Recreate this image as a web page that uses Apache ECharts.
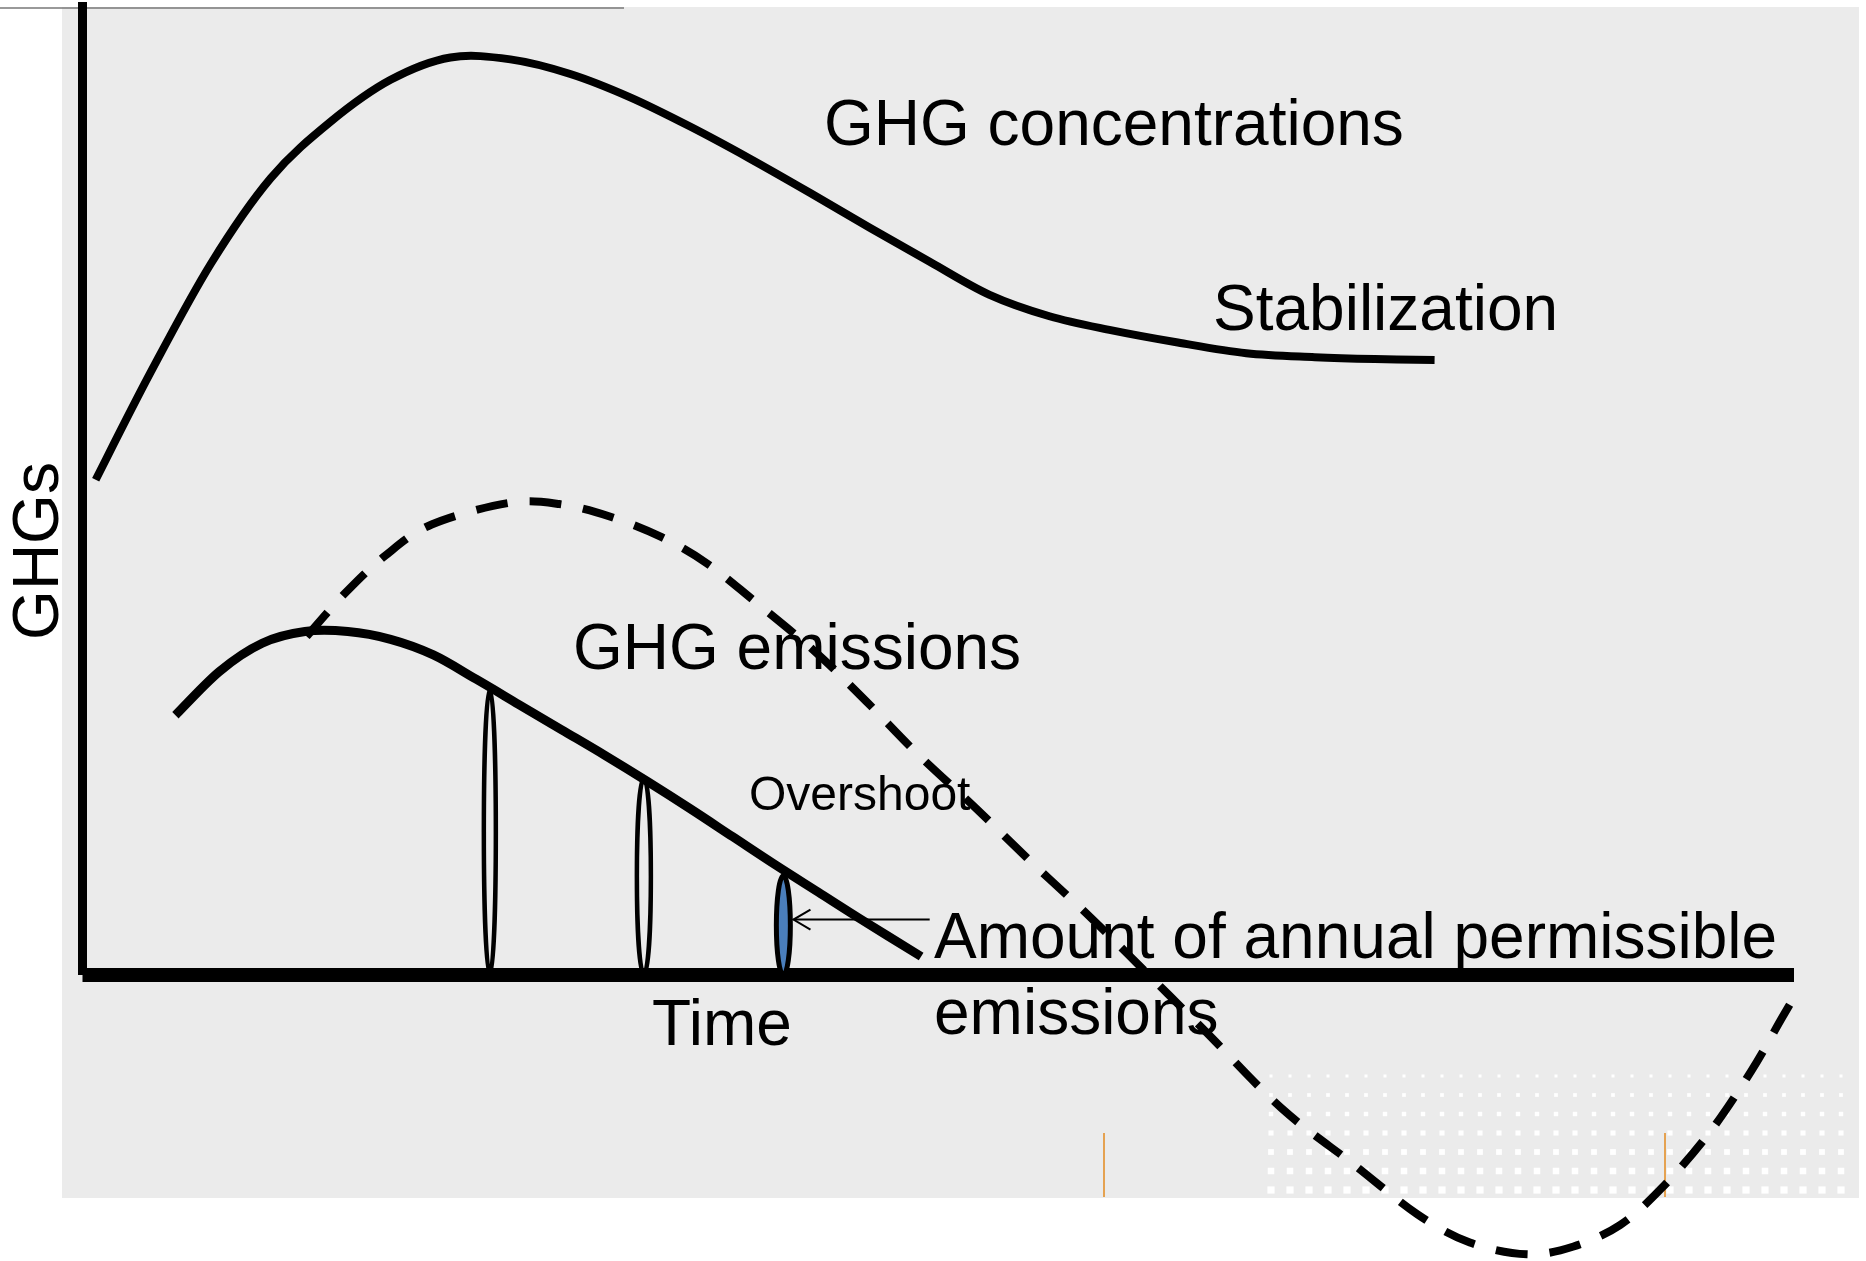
<!DOCTYPE html>
<html>
<head>
<meta charset="utf-8">
<script src="https://cdn.jsdelivr.net/npm/echarts@6/dist/echarts.min.js"></script>
<style>
  html, body { margin: 0; padding: 0; background: #fff; }
  #chart { width: 1866px; height: 1261px; }
</style>
</head>
<body>
<div id="chart"></div>
<script>
// time runs 0..100 along the x axis, GHG level 0..100 up the y axis
// GHG concentrations, rising then levelling off (stabilization)
var concX = [0.77, 4, 7.5, 11, 14.5, 18, 21.5, 25, 28.5, 32, 35.5, 39, 42.5, 46, 49.5, 53, 56.5, 60, 64, 68, 72, 75.5, 79];
var concY = [50.9, 62.0, 73.1, 81.9, 87.7, 92.0, 94.3, 94.1, 92.6, 90.2, 87.2, 83.9, 80.4, 76.8, 73.3, 69.9, 67.7, 66.3, 65.0, 63.9, 63.5, 63.3, 63.2];

// GHG emissions, peak then decline
var emisX = [5.43, 8, 10.5, 13, 15.5, 18, 20.5, 23, 25.5, 28, 30.5, 33, 35.5, 38, 40.5, 43, 45.5, 49];
var emisY = [26.7, 31.2, 34.1, 35.3, 35.3, 34.5, 32.9, 30.4, 27.8, 25.2, 22.6, 19.9, 17.1, 14.2, 11.3, 8.5, 5.7, 1.9];

// overshoot pathway (dashed), dips below zero
var overX = [13.09, 15.32, 17.69, 20.40, 24.86, 27.86, 30.85, 33.84, 36.49, 39.21, 42.76, 45.75, 48.75, 52.16, 55.5, 58.91, 62.3, 65.67, 70.06, 74.30, 78.0, 81.06, 84.40, 87.12, 89.83, 92.27, 95.06, 97.49, 99.30, 100.2];
var overY = [34.8, 39.2, 43.1, 46.3, 48.5, 48.4, 47.1, 45.0, 42.3, 38.5, 33.3, 28.2, 22.8, 17.2, 11.5, 5.9, 0.0, -5.9, -13.7, -19.5, -24.6, -27.5, -28.7, -27.9, -25.7, -21.9, -16.2, -9.9, -4.4, -1.7];

// annual permissible emissions (vertical ellipses under the emissions curve)
var permX = [23.8, 32.8, 40.95];
var permY = [29.4, 20.3, 10.2];

// arrow pointing at the last ellipse
var arrowFrom = [49.5, 5.7];
var arrowTo = [41.54, 5.7];

function pairs(xs, ys) {
    var out = [];
    for (var i = 0; i < xs.length; i++) {
        out.push([xs[i], ys[i]]);
    }
    return out;
}

// smooth curve through the points (catmull-rom in pixel space)
function curveRender(style) {
    return function (params, api) {
        if (params.dataIndex !== 0) return;
        var n = params.dataInsideLength;
        var p = [];
        for (var i = 0; i < n; i++) {
            p.push(api.coord([api.value(0, i), api.value(1, i)]));
        }
        var d = 'M' + p[0][0] + ',' + p[0][1];
        for (var k = 0; k < n - 1; k++) {
            var p0 = p[Math.max(k - 1, 0)], p1 = p[k], p2 = p[k + 1], p3 = p[Math.min(k + 2, n - 1)];
            var c1x = p1[0] + (p2[0] - p0[0]) / 6, c1y = p1[1] + (p2[1] - p0[1]) / 6;
            var c2x = p2[0] - (p3[0] - p1[0]) / 6, c2y = p2[1] - (p3[1] - p1[1]) / 6;
            d += 'C' + c1x + ',' + c1y + ',' + c2x + ',' + c2y + ',' + p2[0] + ',' + p2[1];
        }
        return {type: 'path', shape: {pathData: d}, style: style};
    };
}

var ellipseW = [12, 14, 14];
var ellipseFill = ['none', 'none', '#4a7ebb'];
var ellipseStroke = [4.5, 4.5, 5];

var chart = echarts.init(document.getElementById('chart'));

var textFont = '64px "Liberation Sans", Arial, sans-serif';

// background dots pattern (slide decoration, bottom right)
var dots = [];
for (var r = 0; r < 7; r++) {
    for (var c = 0; c < 31; c++) {
        var s = 3 + r * 0.7;
        dots.push({
            type: 'rect', z: -1, silent: true,
            shape: {x: 1271 + c * 19 - s / 2, y: 1076 + r * 19 - s / 2, width: s, height: s},
            style: {fill: '#ffffff'}
        });
    }
}

chart.setOption({
    animation: false,
    backgroundColor: '#ffffff',
    graphic: [
        {type: 'rect', z: -2, silent: true, shape: {x: 62, y: 7, width: 1797, height: 1191}, style: {fill: '#ebebeb'}},
        {type: 'line', z: -1, silent: true, shape: {x1: 0, y1: 8, x2: 624, y2: 8}, style: {stroke: '#777', lineWidth: 1.5}},
        {type: 'line', z: -1, silent: true, shape: {x1: 1104, y1: 1133, x2: 1104, y2: 1197}, style: {stroke: '#e38a1e', lineWidth: 1.5}},
        {type: 'line', z: -1, silent: true, shape: {x1: 1665, y1: 1133, x2: 1665, y2: 1197}, style: {stroke: '#e38a1e', lineWidth: 1.5}},
        {type: 'group', children: dots},
        {type: 'text', z: 1, x: 824, y: 127, style: {text: 'GHG concentrations', font: textFont, fill: '#000', verticalAlign: 'middle'}},
        {type: 'text', z: 1, x: 1213, y: 312, style: {text: 'Stabilization', font: textFont, fill: '#000', verticalAlign: 'middle'}},
        {type: 'text', z: 1, x: 573, y: 651, style: {text: 'GHG emissions', font: textFont, fill: '#000', verticalAlign: 'middle'}},
        {type: 'text', z: 1, x: 749, y: 797, style: {text: 'Overshoot', font: '48px "Liberation Sans", Arial, sans-serif', fill: '#000', verticalAlign: 'middle'}},
        {type: 'text', z: 1, x: 934, y: 940, style: {text: 'Amount of annual permissible', font: textFont, fill: '#000', verticalAlign: 'middle'}},
        {type: 'text', z: 1, x: 934, y: 1016, style: {text: 'emissions', font: textFont, fill: '#000', verticalAlign: 'middle'}},
        {type: 'text', z: 1, x: 652, y: 1027, style: {text: 'Time', font: textFont, fill: '#000', verticalAlign: 'middle'}},
        {type: 'text', z: 1, x: 40, y: 551, rotation: Math.PI / 2, style: {text: 'GHGs', font: textFont, fill: '#000', align: 'center', verticalAlign: 'middle'}}
    ],
    grid: {left: 82.5, right: 72, top: 2, bottom: 286},
    xAxis: {
        type: 'value', min: 0, max: 100,
        axisLine: {show: true, onZero: true, lineStyle: {color: '#000', width: 14, cap: 'butt'}},
        axisTick: {show: false}, axisLabel: {show: false}, splitLine: {show: false}
    },
    yAxis: {
        type: 'value', min: 0, max: 100,
        axisLine: {show: true, lineStyle: {color: '#000', width: 9, cap: 'butt'}},
        axisTick: {show: false}, axisLabel: {show: false}, splitLine: {show: false}
    },
    series: [
        {
            name: 'GHG concentrations',
            type: 'custom',
            z: 3,
            renderItem: curveRender({fill: 'none', stroke: '#000', lineWidth: 8}),
            data: pairs(concX, concY)
        },
        {
            name: 'GHG emissions',
            type: 'custom',
            z: 3,
            renderItem: curveRender({fill: 'none', stroke: '#000', lineWidth: 9}),
            data: pairs(emisX, emisY)
        },
        {
            name: 'Overshoot',
            type: 'custom',
            clip: false,
            z: 4,
            renderItem: curveRender({fill: 'none', stroke: '#000', lineWidth: 8, lineDash: [32, 22]}),
            data: pairs(overX, overY)
        },
        {
            name: 'Permissible',
            type: 'custom',
            z: 3,
            clip: false,
            renderItem: function (params, api) {
                var i = params.dataIndex;
                var top = api.coord([api.value(0), api.value(1)]);
                var bot = api.coord([api.value(0), 0]);
                return {
                    type: 'ellipse',
                    shape: {cx: top[0], cy: (top[1] + bot[1]) / 2, rx: ellipseW[i] / 2, ry: (bot[1] - top[1]) / 2},
                    style: {fill: ellipseFill[i], stroke: '#000', lineWidth: ellipseStroke[i]}
                };
            },
            data: pairs(permX, permY)
        },
        {
            name: 'Arrow',
            type: 'custom',
            z: 3,
            renderItem: function (params, api) {
                var a = api.coord([api.value(0), api.value(1)]);
                var b = api.coord([api.value(2), api.value(3)]);
                return {
                    type: 'group',
                    children: [
                        {type: 'line', shape: {x1: a[0], y1: a[1], x2: b[0], y2: b[1]}, style: {stroke: '#000', lineWidth: 2}},
                        {type: 'polyline', shape: {points: [[b[0] + 17, b[1] - 10], [b[0], b[1]], [b[0] + 17, b[1] + 10]]}, style: {stroke: '#000', fill: 'none', lineWidth: 2}}
                    ]
                };
            },
            data: [[arrowFrom[0], arrowFrom[1], arrowTo[0], arrowTo[1]]]
        }
    ]
});
</script>
</body>
</html>
